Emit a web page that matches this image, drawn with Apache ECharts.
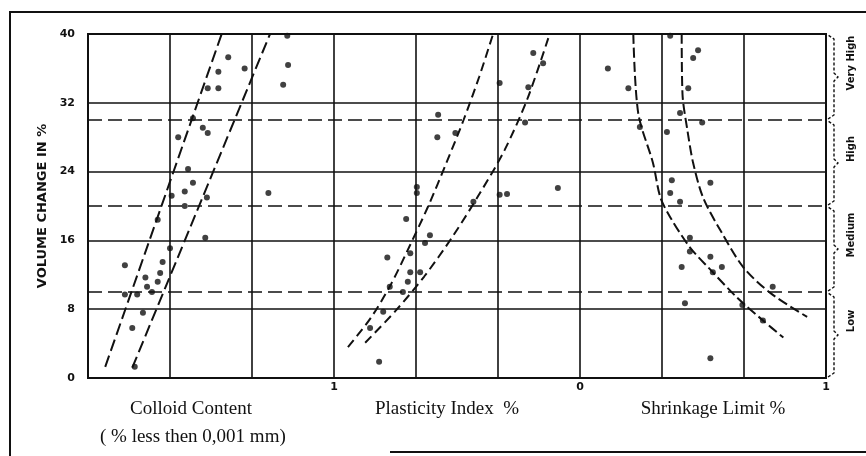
<!DOCTYPE html>
<html>
<head>
<meta charset="utf-8">
<script src="https://cdn.jsdelivr.net/npm/echarts@6/dist/echarts.min.js"></script>
<style>
  html, body { margin: 0; padding: 0; background: #fff; }
  #chart { width: 866px; height: 456px; }
</style>
</head>
<body>
<div id="chart"></div>
<script>
// x runs over the 9 grid columns (3 per panel), y is volume change in %
const colloidPoints = [
  [2.43, 39.8], [1.71, 37.3], [1.91, 36.0], [1.59, 35.6], [2.44, 36.4], [2.38, 34.1],
  [1.46, 33.7], [1.59, 33.7], [1.28, 30.2], [1.40, 29.1], [1.46, 28.5], [1.10, 28.0],
  [1.22, 24.3], [1.02, 21.2], [1.18, 21.7], [1.28, 22.7], [1.45, 21.0], [1.18, 20.0],
  [2.20, 21.5], [0.85, 18.4], [1.43, 16.3], [0.45, 13.1], [1.00, 15.1], [0.91, 13.5],
  [0.70, 11.7], [0.88, 12.2], [0.85, 11.2], [0.72, 10.6], [0.60, 9.7], [0.45, 9.7],
  [0.78, 10.0], [0.67, 7.6], [0.54, 5.8], [0.57, 1.3]
]
const colloidLeft = [[0.21, 1.3], [1.63, 40]]
const colloidRight = [[0.54, 1.2], [2.22, 40]]

const plasticityPoints = [
  [5.43, 37.8], [5.55, 36.6], [5.37, 33.8], [5.02, 34.3], [4.27, 30.6], [4.48, 28.5],
  [4.26, 28.0], [5.33, 29.7], [4.01, 22.2], [4.01, 21.5], [5.73, 22.1], [5.02, 21.3],
  [5.11, 21.4], [4.70, 20.5], [3.88, 18.5], [4.17, 16.6], [4.11, 15.7], [3.93, 14.5],
  [3.65, 14.0], [3.93, 12.3], [4.05, 12.3], [3.90, 11.2], [3.68, 10.6], [3.84, 10.0],
  [3.60, 7.7], [3.44, 5.8], [3.55, 1.9]
]
const plasticityLeft = [
  [3.17, 3.6], [3.45, 7.0], [3.70, 11.0], [3.93, 15.5], [4.15, 20.0],
  [4.37, 25.0], [4.58, 30.0], [4.77, 35.0], [4.94, 40]
]
const plasticityRight = [
  [3.38, 4.1], [3.75, 7.8], [4.10, 11.8], [4.45, 16.5], [4.78, 21.5],
  [5.08, 26.5], [5.36, 32.5], [5.63, 40]
]

const shrinkagePoints = [
  [6.34, 36.0], [6.59, 33.7], [7.44, 38.1], [7.38, 37.2], [7.32, 33.7], [7.10, 39.8],
  [7.22, 30.8], [6.73, 29.2], [7.06, 28.6], [7.49, 29.7], [7.12, 23.0], [7.59, 22.7],
  [7.10, 21.5], [7.22, 20.5], [7.34, 16.3], [7.34, 14.7], [7.59, 14.1], [7.24, 12.9],
  [7.73, 12.9], [7.62, 12.3], [8.35, 10.6], [7.98, 8.5], [7.28, 8.7], [8.23, 6.7],
  [7.59, 2.3]
]
const shrinkageLeft = [
  [6.65, 40], [6.71, 30.8], [6.89, 25.0], [6.98, 21.0], [7.10, 18.7], [7.34, 15.2],
  [7.59, 12.6], [7.91, 9.4], [8.23, 6.7], [8.48, 4.7]
]
const shrinkageRight = [
  [7.24, 40], [7.25, 33.0], [7.31, 28.8], [7.38, 25.0], [7.50, 21.0], [7.71, 17.2],
  [7.99, 12.9], [8.32, 9.9], [8.77, 7.1]
]

const classLimits = [10, 20, 30]
const classBands = [[0, 10], [10, 20], [20, 30], [30, 40]]
const classNames = ['Low', 'Medium', 'High', 'Very High']
const xTickPos = [3, 6, 9]
const xTickText = ['1', '0', '1']

const chart = echarts.init(document.getElementById('chart'))

const dashLine = (data, dash) => ({
  type: 'line',
  data,
  smooth: 0.3,
  symbol: 'none',
  silent: true,
  lineStyle: { color: '#111', width: 2, type: dash }
})

const dots = data => ({
  type: 'scatter',
  data,
  symbolSize: 6,
  itemStyle: { color: '#111' }
})

chart.setOption({
  animation: false,
  grid: { left: 88, right: 40, top: 34, bottom: 78, show: true, borderColor: '#111', borderWidth: 2 },
  xAxis: {
    type: 'value', min: 0, max: 9, interval: 1,
    axisLine: { show: false },
    axisTick: { show: false },
    splitLine: { lineStyle: { color: '#111', width: 1.6 } },
    axisLabel: {
      margin: 4, fontSize: 11, fontWeight: 'bold', color: '#111', fontFamily: 'DejaVu Sans',
      formatter: v => {
        const i = xTickPos.indexOf(v)
        return i >= 0 ? xTickText[i] : ''
      }
    }
  },
  yAxis: {
    type: 'value', min: 0, max: 40, interval: 8,
    name: 'VOLUME CHANGE IN %',
    nameLocation: 'middle',
    nameGap: 38,
    nameTextStyle: { fontSize: 13, fontWeight: 'bold', color: '#111', fontFamily: 'DejaVu Sans' },
    axisLine: { show: false },
    axisTick: { show: false },
    splitLine: { lineStyle: { color: '#111', width: 1.6 } },
    axisLabel: { margin: 13, fontSize: 11, fontWeight: 'bold', color: '#111', fontFamily: 'DejaVu Sans' }
  },
  series: [
    {
      type: 'line', data: [], silent: true,
      markLine: {
        symbol: 'none', silent: true, label: { show: false },
        lineStyle: { color: '#111', width: 1.6, type: [14, 6] },
        data: classLimits.map(v => ({ yAxis: v }))
      }
    },
    dashLine(colloidLeft, [12, 5]),
    dashLine(colloidRight, [12, 5]),
    dashLine(plasticityLeft, [9, 5]),
    dashLine(plasticityRight, [9, 5]),
    dashLine(shrinkageLeft, [10, 4]),
    dashLine(shrinkageRight, [10, 4]),
    dots(colloidPoints),
    dots(plasticityPoints),
    dots(shrinkagePoints)
  ]
})

// titles, outer frame and the class braces on the right
const px = (x, y) => chart.convertToPixel({ gridIndex: 0 }, [x, y])
const right = px(9, 0)[0]
const braceX = right + 8
const serif = '19px "Liberation Serif"'
const graphic = [
  { type: 'polyline', shape: { points: [[10, 456], [10, 12], [866, 12]] }, style: { stroke: '#111', lineWidth: 2, fill: null } },
  { type: 'line', shape: { x1: 390, y1: 452, x2: 866, y2: 452 }, style: { stroke: '#111', lineWidth: 2 } },
  { type: 'text', x: 191, y: 409, style: { text: 'Colloid Content', font: serif, fill: '#111', align: 'center', verticalAlign: 'middle' } },
  { type: 'text', x: 100, y: 437, style: { text: '( % less then 0,001 mm)', font: serif, fill: '#111', align: 'left', verticalAlign: 'middle' } },
  { type: 'text', x: 447, y: 409, style: { text: 'Plasticity Index  %', font: serif, fill: '#111', align: 'center', verticalAlign: 'middle' } },
  { type: 'text', x: 713, y: 409, style: { text: 'Shrinkage Limit %', font: serif, fill: '#111', align: 'center', verticalAlign: 'middle' } }
]
classBands.forEach((band, i) => {
  const y0 = px(0, band[0])[1]
  const y1 = px(0, band[1])[1]
  const mid = (y0 + y1) / 2
  graphic.push({
    type: 'polyline',
    shape: { points: [[right + 2, y0 - 1], [braceX, y0 - 5], [braceX, mid + 4], [braceX + 4, mid], [braceX, mid - 4], [braceX, y1 + 5], [right + 2, y1 + 1]] },
    style: { stroke: '#111', lineWidth: 1.4, lineDash: [3, 2], fill: null }
  })
  graphic.push({
    type: 'text', x: 851, y: mid - 14, rotation: Math.PI / 2,
    style: { text: classNames[i], font: 'bold 10px "DejaVu Sans"', fill: '#111', align: 'center', verticalAlign: 'middle' }
  })
})
chart.setOption({ graphic })
</script>
</body>
</html>
